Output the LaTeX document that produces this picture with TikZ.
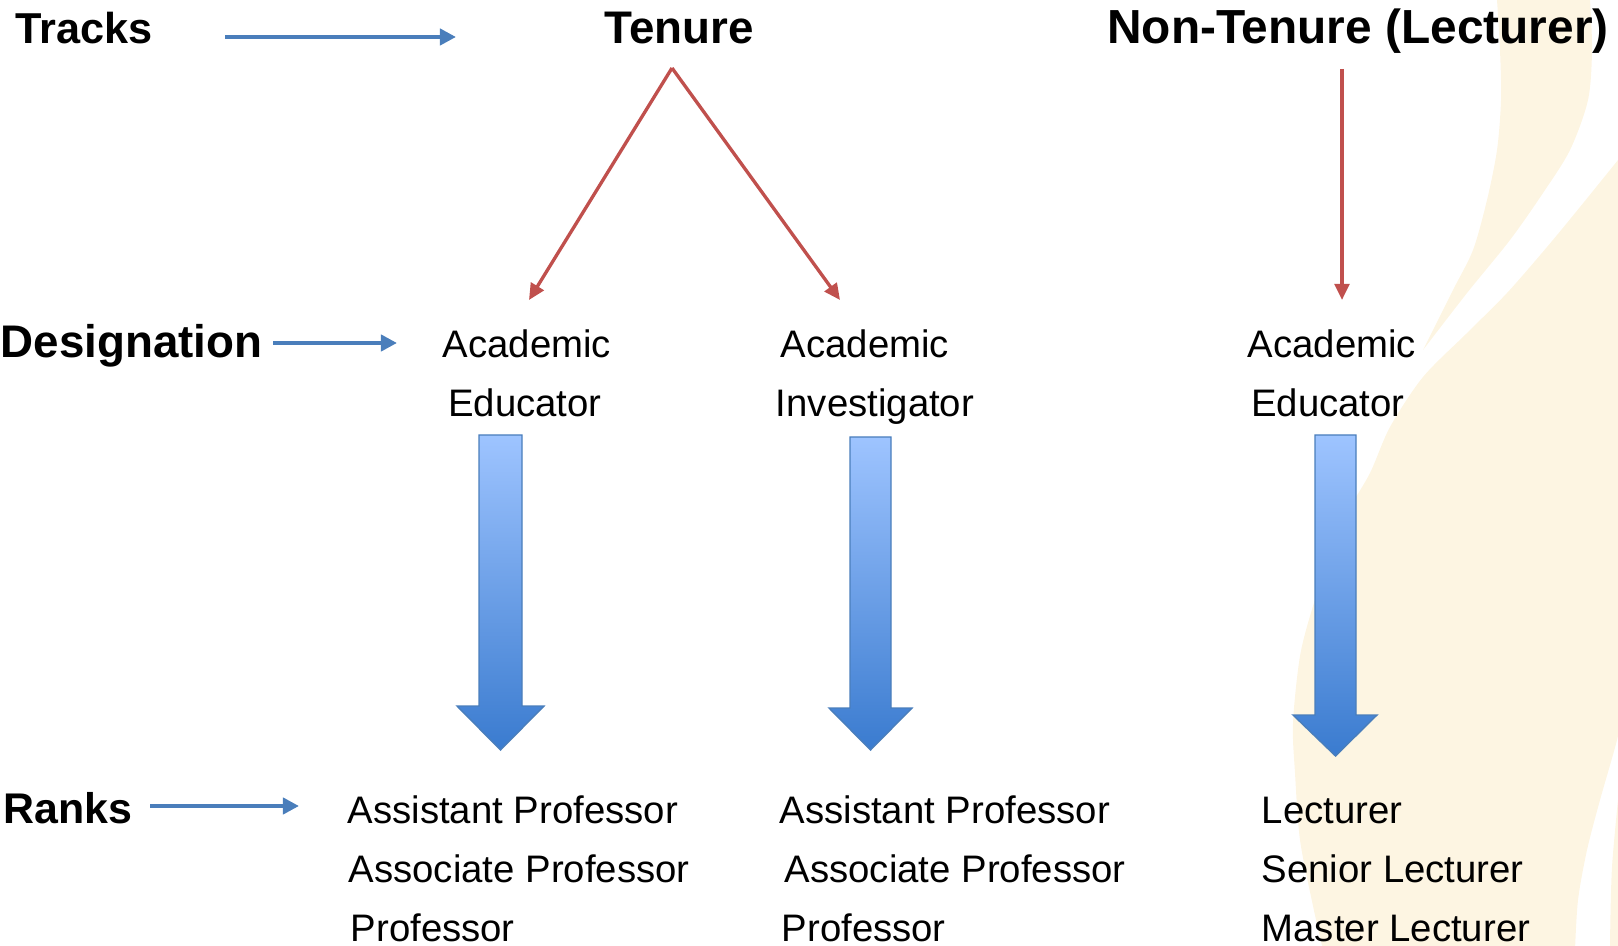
\documentclass[tikz,border=0pt]{standalone}
\usepackage{fontspec}
\setmainfont{Liberation Sans}
\usepackage{xcolor}
\usepackage{tikz}
\usetikzlibrary{arrows.meta,positioning}

\definecolor{accentblue}{HTML}{4A7EBB}
\definecolor{accentred}{HTML}{C0504D}
\definecolor{arrowtop}{HTML}{9EC4FF}
\definecolor{arrowbot}{HTML}{3A7BCF}
\definecolor{cream}{HTML}{FDF5E2}

\tikzset{
  heading/.style={font=\fontsize{#1}{15}\selectfont\bfseries, inner sep=0pt},
  heading/.default=13,
  entry/.style={font=\fontsize{10.9}{13}\selectfont, inner sep=0pt},
  pointer/.style={accentblue, line width=1.3pt, -{Triangle[length=4.6pt,width=4.6pt]}},
  branch/.style={accentred, line width=0.95pt, -{Triangle[length=4.6pt,width=4.2pt]}},
  rankarrow/.style={top color=arrowtop, bottom color=arrowbot, draw=accentblue, line width=0.4pt}
}

\begin{document}
\begin{tikzpicture}[x=0.01cm, y=-0.01cm]
    \useasboundingbox (0,0) rectangle (1618,946);
    \clip (0,0) rectangle (1618,946);

    % Background waves
    \fill[cream] (1497,-5) -- (1590,-5) -- plot[smooth] coordinates {(1590,0) (1592,50) (1588,100) (1570,150) (1543,193) (1510,240) (1467,293) (1423,350)}
        -- plot[smooth] coordinates {(1423,350) (1453,290) (1473,250) (1487,200) (1497,150) (1501,100) (1500,50) (1497,0)} -- cycle;
    \fill[cream] (1625,160) -- plot[smooth] coordinates {(1618,160) (1580,207) (1547,247) (1507,293) (1467,333) (1423,377) (1390,427) (1370,473) (1347,513) (1330,556) (1313,606) (1300,656) (1293,723) (1295,773) (1300,840) (1313,906) (1323,950)}
        -- plot[smooth] coordinates {(1575,950) (1578,900) (1587,850) (1600,800) (1617,740) (1625,700)} -- cycle;
    \fill[cream] (1610,950) -- plot[smooth] coordinates {(1610,946) (1612,867) (1620,780)} -- (1625,950) -- cycle;

    % Tracks
    \node[heading=12.3, anchor=base west] (tracks) at (15,44) {Tracks};
    \node[heading, anchor=base] (tenure) at (679,44) {Tenure};
    \node[heading=13.6, anchor=base] (nontenure) at (1358,44) {Non-Tenure (Lecturer)};
    \coordinate (tracksfrom) at (225,37);
    \coordinate (tracksto) at (456,37);
    \draw[pointer] (tracksfrom) -- (tracksto);

    % Designation
    \node[heading, anchor=base west] (designation) at (0,358) {Designation};
    \coordinate (desigfrom) at (273,343);
    \coordinate (desigto) at (397,343);
    \draw[pointer] (desigfrom) -- (desigto);

    \node[entry, anchor=base] (eduA) at (527,358) {Academic};
    \node[entry, anchor=base] (eduB) at (525,417) {Educator};
    \node[entry, anchor=base] (invA) at (865,358) {Academic};
    \node[entry, anchor=base] (invB) at (875,417) {Investigator};
    \node[entry, anchor=base] (lecA) at (1332,358) {Academic};
    \node[entry, anchor=base] (lecB) at (1328,417) {Educator};

    % Tenure branches
    \coordinate (tenurefork) at (672,68);
    \coordinate (edutip) at (529,300);
    \coordinate (invtip) at (840,300);
    \coordinate (lecfrom) at (1342,69);
    \coordinate (lectip) at (1342,300);
    \draw[branch] (tenurefork) -- (edutip);
    \draw[branch] (tenurefork) -- (invtip);
    \draw[branch] (lecfrom) -- (lectip);

    % Big arrows
    \draw[rankarrow] (479,435) -- (522,435) -- (522,706) -- (544,706) -- (500.5,750) -- (457,706) -- (479,706) -- cycle;
    \draw[rankarrow] (850,437) -- (891,437) -- (891,708) -- (912,708) -- (870.5,750) -- (829,708) -- (850,708) -- cycle;
    \draw[rankarrow] (1315,435) -- (1356,435) -- (1356,715) -- (1377,715) -- (1335.5,756) -- (1293,715) -- (1315,715) -- cycle;

    % Ranks
    \node[heading=12.2, anchor=base west] (ranks) at (3,823) {Ranks};
    \coordinate (rankfrom) at (150,806);
    \coordinate (rankto) at (299,806);
    \draw[pointer] (rankfrom) -- (rankto);

    \node[entry, anchor=base west] (eduR1) at (347,823) {Assistant Professor};
    \node[entry, anchor=base west] (eduR2) at (348,882) {Associate Professor};
    \node[entry, anchor=base west] (eduR3) at (350,941) {Professor};
    \node[entry, anchor=base west] (invR1) at (779,823) {Assistant Professor};
    \node[entry, anchor=base west] (invR2) at (784,882) {Associate Professor};
    \node[entry, anchor=base west] (invR3) at (781,941) {Professor};
    \node[entry, anchor=base west] (lecR1) at (1261,823) {Lecturer};
    \node[entry, anchor=base west] (lecR2) at (1261,882) {Senior Lecturer};
    \node[entry, anchor=base west] (lecR3) at (1261,941) {Master Lecturer};
\end{tikzpicture}
\end{document}
